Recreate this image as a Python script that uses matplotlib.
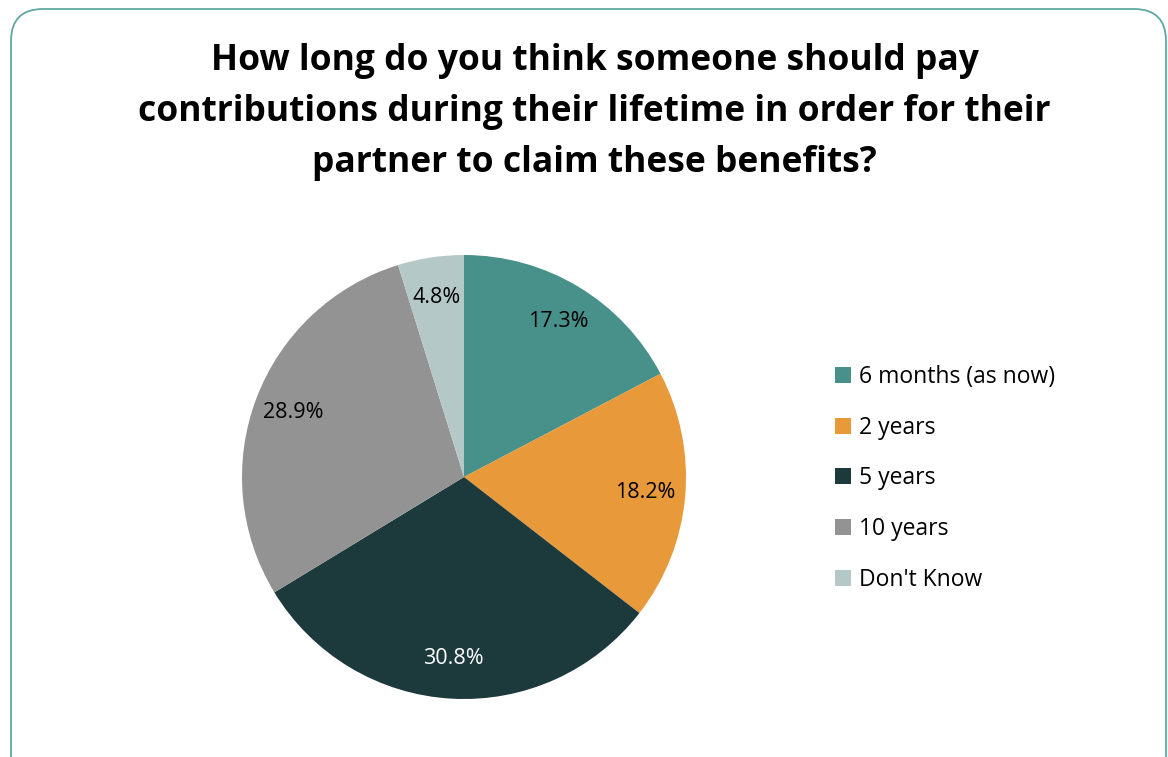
import numpy as np
import matplotlib.pyplot as plt
from matplotlib.patches import FancyBboxPatch, Patch

# Survey answers and their shares (%)
categories = ["6 months (as now)", "2 years", "5 years", "10 years", "Don't Know"]
shares = [17.3, 18.2, 30.8, 28.9, 4.8]
colors = ["#48918b", "#e8993a", "#1c393b", "#939393", "#b4c8c7"]
label_colors = ["black", "black", "white", "black", "black"]

title = ("How long do you think someone should pay\n"
         "contributions during their lifetime in order for their\n"
         "partner to claim these benefits?")

plt.rcParams['font.family'] = ['Open Sans', 'DejaVu Sans']

fig = plt.figure(figsize=(11.68, 7.57), dpi=100)

# rounded frame around the whole chart
frame = FancyBboxPatch((0.11, -0.3), 11.55, 7.78,
                       boxstyle="round,pad=0,rounding_size=0.32",
                       transform=fig.dpi_scale_trans, zorder=-1,
                       facecolor="white", edgecolor="#5fa8a2", linewidth=1.3)
fig.patches.append(frame)

fig.text(0.509, 0.852, title, ha="center", va="center", fontsize=25.5,
         fontweight="bold", linespacing=1.56)

ax = fig.add_axes([242 / 1168, 58 / 757, 444 / 1168, 444 / 757])
wedges, texts = ax.pie(shares, colors=colors, startangle=90, counterclock=False,
                       wedgeprops=dict(linewidth=0))
ax.set_xlim(-1, 1)
ax.set_ylim(-1, 1)
ax.set_aspect("equal")

# percentage labels inside each slice
for w, val, tc in zip(wedges, shares, label_colors):
    ang = np.deg2rad((w.theta1 + w.theta2) / 2)
    r = 0.82
    ax.text(r * np.cos(ang), r * np.sin(ang), f"{val:.1f}%", ha="center",
            va="center", fontsize=15.5, color=tc)

handles = [Patch(facecolor=c, edgecolor="none") for c in colors]
fig.legend(handles, categories, loc="center left", bbox_to_anchor=(0.697, 0.368),
           frameon=False, fontsize=16.5, handlelength=0.7, handleheight=0.7,
           handletextpad=0.35, labelspacing=1.16)

fig.savefig("out.png", dpi=100)
